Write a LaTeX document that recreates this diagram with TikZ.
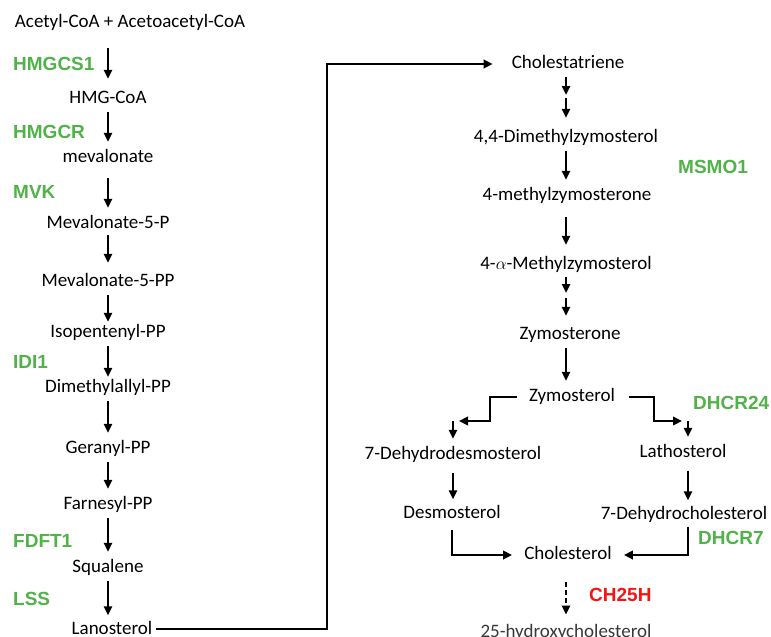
\documentclass[tikz,border=0pt]{standalone}
\usepackage{fontspec}
\setmainfont{Carlito}
\newfontfamily\labfont{Liberation Sans}
\usetikzlibrary{arrows.meta,calc}
\definecolor{enzgreen}{RGB}{80,178,72}
\definecolor{enzred}{RGB}{245,20,20}
\tikzset{
  chem/.style={font=\fontsize{19}{22}\selectfont, inner sep=0pt, text height=13pt, text depth=4pt},
  enz/.style={font=\labfont\bfseries\fontsize{19}{22}\selectfont, text=enzgreen, inner sep=0pt, anchor=west, text height=13pt, text depth=0pt},
  arr/.style={line width=2.3pt, -{Triangle[length=9pt,width=8pt]}, shorten <=4.5pt, shorten >=7.5pt},
  elbow/.style={line width=2.7pt, -{Triangle[length=9pt,width=8.5pt]}},
}
\begin{document}
\begin{tikzpicture}[x=1pt,y=-1pt]
\useasboundingbox (0,0) rectangle (771,637);
% left column
\node[chem] (acetyl) at (130,23) {Acetyl-CoA + Acetoacetyl-CoA};
\node[chem] (hmg) at (108,99) {HMG-CoA};
\node[chem] (mev) at (108,158) {mevalonate};
\node[chem] (mevp) at (108,224) {Mevalonate-5-P};
\node[chem] (mevpp) at (108,282) {Mevalonate-5-PP};
\node[chem] (ipp) at (108,333) {Isopentenyl-PP};
\node[chem] (dmapp) at (108,388) {Dimethylallyl-PP};
\node[chem] (gpp) at (108,449) {Geranyl-PP};
\node[chem] (fpp) at (108,505) {Farnesyl-PP};
\node[chem] (sq) at (108,568) {Squalene};
\node[chem, text depth=2pt] (lan) at (112,629) {Lanosterol};
% left enzymes
\node[enz] (e1) at (13,64) {HMGCS1};
\node[enz] (e2) at (13,132) {HMGCR};
\node[enz] (e3) at (13,192) {MVK};
\node[enz] (e4) at (13,362) {IDI1};
\node[enz] (e5) at (13,541) {FDFT1};
\node[enz] (e6) at (13,599) {LSS};
% left arrows
\draw[arr, shorten <=16.5pt, shorten >=11.5pt] (hmg |- acetyl.south) -- (hmg.north);
\draw[arr] (hmg.south) -- (mev.north);
\draw[arr, shorten <=11.5pt] (mev.south) -- (mevp.north);
\draw[arr, shorten <=2.5pt, shorten >=10.5pt] (mevp.south) -- (mevpp.north);
\draw[arr, shorten >=2.5pt] (mevpp.south) -- (ipp.north);
\draw[arr, shorten >=2.5pt] (ipp.south) -- (dmapp.north);
\draw[arr] (dmapp.south) -- (gpp.north);
\draw[arr] (gpp.south) -- (fpp.north);
\draw[arr] (fpp.south) -- (sq.north);
\draw[arr, shorten >=6pt] (sq.south) -- (lan.north -| sq);
% right column
\node[chem] (ch) at (568,64) {Cholestatriene};
\node[chem] (dmz) at (566,138) {4,4-Dimethylzymosterol};
\node[chem] (mzone) at (567,196) {4-methylzymosterone};
\node[chem] (amz) at (566,265) {4-$\alpha$-Methylzymosterol};
\node[chem] (zone) at (570,335) {Zymosterone};
\node[chem] (zol) at (572,397) {Zymosterol};
\node[chem] (dhd) at (453,455) {7-Dehydrodesmosterol};
\node[chem] (lat) at (683,453) {Lathosterol};
\node[chem] (des) at (452,514) {Desmosterol};
\node[chem] (dhc) at (684,515) {7-Dehydrocholesterol};
\node[chem] (chol) at (568,555) {Cholesterol};
\node[font=\fontsize{19}{22}\selectfont, text=black!78, inner sep=0pt, anchor=base] (hc) at (566,637) {25-hydroxycholesterol};
% right enzymes
\node[enz] (e7) at (678,167) {MSMO1};
\node[enz] (e8) at (693,403) {DHCR24};
\node[enz] (e9) at (698,538) {DHCR7};
\node[enz, text=enzred] (e10) at (589,595) {CH25H};
% coordinates
\coordinate (m1) at (566,96.5);
\coordinate (m2) at (566,295.5);
\coordinate (zl) at (453,421);
\coordinate (zr) at (688,421);
% lanosterol connector
\draw[elbow, line width=2.8pt, shorten <=3pt, shorten >=19pt] (lan.east) -- (327,629) |- (ch.west);
% right arrows
\draw[arr, shorten <=4.5pt, shorten >=1.5pt] (m1 |- ch.south) -- (m1);
\draw[arr, shorten <=1.5pt, shorten >=11.5pt] (m1) -- (m1 |- dmz.north);
\draw[arr] (m1 |- dmz.south) -- (m1 |- mzone.north);
\draw[arr, shorten <=12.5pt, shorten >=11.5pt] (m1 |- mzone.south) -- (m1 |- amz.north);
\draw[arr, shorten <=3.5pt, shorten >=2.5pt] (m2 |- amz.south) -- (m2);
\draw[arr, shorten <=2.5pt, shorten >=10.5pt] (m2) -- (m2 |- zone.north);
\draw[arr] (m2 |- zone.south) -- (m2 |- zol.north);
% branches
\draw[elbow, shorten <=11.5pt, shorten >=6pt] (zol.west) -- (490,397) |- (zl);
\draw[arr, shorten <=0pt] (zl) -- (dhd.north);
\draw[elbow, shorten <=13.5pt, shorten >=6pt] (zol.east) -- (654,397) |- (zr);
\draw[arr, shorten <=0pt] (zr) -- (zr |- lat.north);
\draw[arr, shorten <=9pt, shorten >=6pt] (zl |- dhd.south) -- (zl |- des.north);
\draw[arr, shorten <=9pt, shorten >=6pt] (zr |- lat.south) -- (zr |- dhc.north);
\draw[elbow, shorten <=7pt, shorten >=12pt] (des.south) |- (chol.west);
\draw[elbow, shorten <=3pt, shorten >=12pt] (zr |- dhc.south) |- (chol.east);
\draw[arr, dash pattern=on 5pt off 3pt, shorten <=18pt, shorten >=9pt] (m2 |- chol.south) -- (m2 |- hc.north);
\end{tikzpicture}
\end{document}
